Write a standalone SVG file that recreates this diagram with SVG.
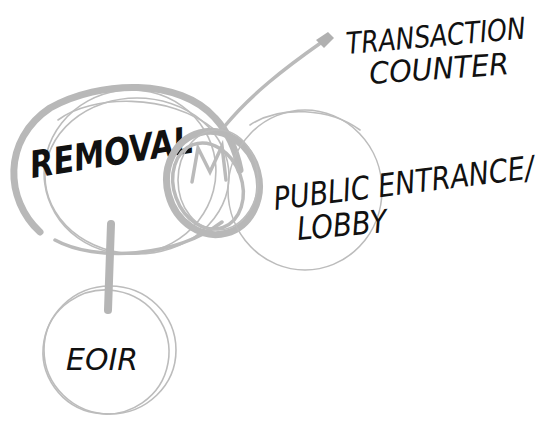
<svg xmlns="http://www.w3.org/2000/svg" width="551" height="424" viewBox="0 0 551 424">
<style>
.thin{fill:none;stroke:#bcbcbc;stroke-width:1.6;stroke-linecap:round}
.thick{fill:none;stroke:#b8b8b8;stroke-width:7;stroke-linecap:round}
.mid{fill:none;stroke:#bababa;stroke-width:3.5;stroke-linecap:round}
.lbl{font-family:"DejaVu Sans Condensed","DejaVu Sans",sans-serif;font-style:oblique;fill:#111}
</style>
<rect width="551" height="424" fill="#fff"/>
<g id="removal">
<ellipse class="thin" cx="137" cy="176" rx="92" ry="78"/>
<ellipse class="thin" cx="130" cy="172" rx="86" ry="82" transform="rotate(-8 130 172)"/>
<path class="thin" d="M58 120 C90 95 170 92 215 130"/>
<path class="thick" d="M40 232 C5 200 2 140 50 108 C100 80 180 78 215 118 C228 132 236 150 240 170"/>
<path class="mid" d="M55 240 C95 262 175 258 222 222"/>
<text class="lbl" x="32" y="178" font-size="37" font-weight="bold" textLength="165" lengthAdjust="spacingAndGlyphs" transform="rotate(-9 32 178)">REMOVAL</text>
</g>
<g id="loop">
<ellipse class="thick" cx="213" cy="183" rx="46" ry="52" transform="rotate(-15 213 183)"/>
<ellipse class="mid" cx="208" cy="186" rx="34" ry="44" transform="rotate(-20 208 186)"/>
<ellipse class="thin" cx="218" cy="180" rx="40" ry="50"/>
<path class="mid" d="M192 182 L198 148 L210 172 L222 146 L226 180"/>
</g>
<g id="public">
<ellipse class="thin" cx="305" cy="190" rx="77" ry="80"/>
<path class="thin" d="M250 125 C280 105 330 108 360 130"/>
<text class="lbl" x="275" y="210" font-size="32" textLength="262" lengthAdjust="spacingAndGlyphs" transform="rotate(-7 275 210)">PUBLIC ENTRANCE/</text>
<text class="lbl" x="298" y="240" font-size="32" textLength="90" lengthAdjust="spacingAndGlyphs" transform="rotate(-5 298 240)">LOBBY</text>
</g>
<g id="transaction">
<text class="lbl" x="347" y="54" font-size="30" textLength="180" lengthAdjust="spacingAndGlyphs" transform="rotate(-5 347 54)">TRANSACTION</text>
<text class="lbl" x="370" y="84" font-size="30" textLength="140" lengthAdjust="spacingAndGlyphs" transform="rotate(-4 370 84)">COUNTER</text>
</g>
<g id="eoir">
<ellipse class="thin" cx="110" cy="350" rx="66" ry="64"/>
<ellipse class="thin" cx="106" cy="352" rx="63" ry="62" transform="rotate(10 106 352)"/>
<text class="lbl" x="66" y="370" font-size="30" textLength="72" lengthAdjust="spacingAndGlyphs">EOIR</text>
</g>
<g id="connectors">
<path d="M111 224 L108 310" stroke="#b5b5b5" stroke-width="8" stroke-linecap="round" fill="none"/>
<path class="mid" d="M224 127 C250 95 285 68 322 42" stroke-width="2.5"/>
<path d="M316 40 L328 32 L334 38 L324 48 Z" fill="#b0b0b0"/>
</g>
</svg>
